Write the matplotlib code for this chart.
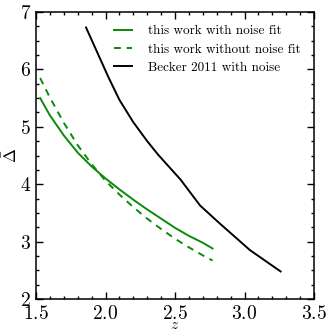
import matplotlib
matplotlib.use("Agg")
import matplotlib.pyplot as plt
from matplotlib.ticker import MultipleLocator, FormatStrFormatter

plt.rcParams['font.family'] = ['cmr10', 'DejaVu Serif']
plt.rcParams['mathtext.fontset'] = 'cm'
plt.rcParams['axes.formatter.use_mathtext'] = True

# this work, with noise fit
z_fit = [1.53, 1.6, 1.7, 1.8, 1.9, 2.0, 2.1, 2.2, 2.3, 2.4, 2.5, 2.6, 2.7, 2.77]
delta_fit = [5.50, 5.20, 4.85, 4.55, 4.31, 4.10, 3.91, 3.73, 3.56, 3.40, 3.24, 3.10, 2.98, 2.88]

# this work, without noise fit
z_nofit = [1.53, 1.6, 1.7, 1.8, 1.9, 2.0, 2.1, 2.2, 2.3, 2.4, 2.5, 2.6, 2.7, 2.77]
delta_nofit = [5.85, 5.51, 5.07, 4.68, 4.35, 4.06, 3.82, 3.60, 3.40, 3.22, 3.05, 2.90, 2.76, 2.67]

# Becker 2011 with noise
z_becker = [1.86, 2.02, 2.10, 2.20, 2.30, 2.38, 2.54, 2.68, 2.82, 3.04, 3.26]
delta_becker = [6.73, 5.87, 5.47, 5.08, 4.75, 4.51, 4.08, 3.63, 3.32, 2.85, 2.48]

green = '#0a8a0a'

fig = plt.figure(figsize=(3.32, 3.33), dpi=100)
ax = fig.add_axes([36 / 332, 1 - 299 / 333, 278 / 332, 287 / 333])

ax.plot(z_fit, delta_fit, color=green, lw=1.4, label='this work with noise fit')
ax.plot(z_nofit, delta_nofit, color=green, lw=1.4, ls=(0, (3.5, 3)),
        label='this work without noise fit')
ax.plot(z_becker, delta_becker, color='black', lw=1.4, label='Becker 2011 with noise')

ax.set_xlim(1.5, 3.5)
ax.set_ylim(2, 7)
ax.xaxis.set_major_locator(MultipleLocator(0.5))
ax.xaxis.set_minor_locator(MultipleLocator(0.1))
ax.yaxis.set_major_locator(MultipleLocator(1))
ax.yaxis.set_minor_locator(MultipleLocator(0.25))
ax.xaxis.set_major_formatter(FormatStrFormatter(r'$%.1f$'))
ax.yaxis.set_major_formatter(FormatStrFormatter(r'$%d$'))

ax.tick_params(which='both', direction='in', top=True, right=True, width=1.0)
ax.tick_params(which='major', length=5, labelsize=14)
ax.tick_params(axis='x', which='major', pad=4)
ax.tick_params(which='minor', length=2.5)
for s in ax.spines.values():
    s.set_linewidth(1.1)

ax.set_xlabel(r'$z$', fontsize=11, labelpad=-3)
ax.set_ylabel(r'$\bar{\Delta}$', fontsize=12, labelpad=0)

ax.legend(loc='upper right', frameon=False, fontsize=9.5, handlelength=1.4,
          handletextpad=1.2, labelspacing=0.45, borderaxespad=0.6)

fig.savefig('out.png', dpi=100)
